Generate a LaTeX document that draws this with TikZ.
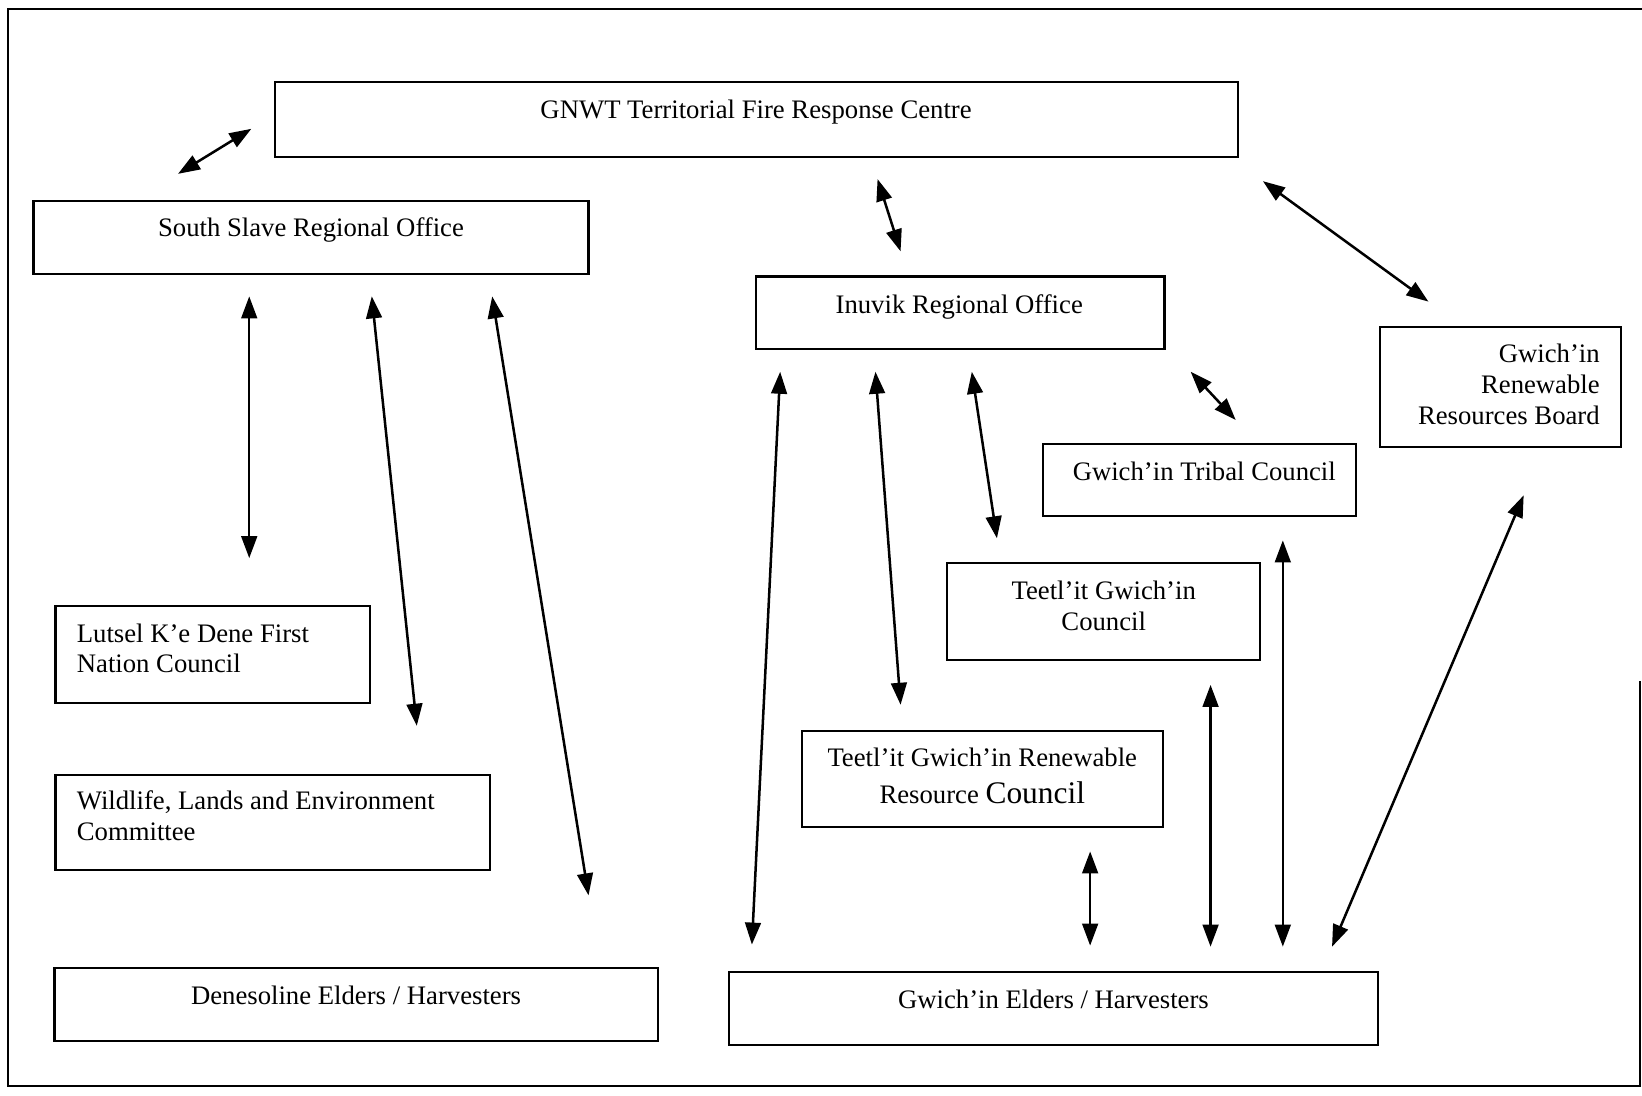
\documentclass[tikz,border=0pt]{standalone}
\usepackage{fontspec}
\setmainfont{Liberation Serif}
\usetikzlibrary{arrows.meta}
\tikzset{
  box/.style={draw, line width=1pt, inner sep=0pt},
  txt/.style={inner sep=0pt, font=\fontsize{12.75}{14.7}\selectfont},
  biarrow/.style={line width=1.2pt, {Triangle[length=10.5pt,width=7.5pt]}-{Triangle[length=10.5pt,width=7.5pt]}},
  frameline/.style={line width=1pt}
}
\begin{document}
\begin{tikzpicture}[x=0.5pt,y=-0.5pt]
\useasboundingbox (0,0) rectangle (1568,1046);
% outer frame
\coordinate (f1) at (8,9);
\coordinate (f2) at (1568,9);
\coordinate (f3) at (8,1037);
\coordinate (f4) at (1566,1037);
\coordinate (f5) at (1566,650);
\draw[frameline] (f2) -- (f1) -- (f3) -- (f4) -- (f5);

% boxes
\node[box, minimum width=459.5pt, minimum height=36pt] (gnwt) at (722.5,114) {};
\node[txt, anchor=base] (gnwtT) at (722,113) {GNWT Territorial Fire Response Centre};

\node[box, minimum width=265pt, minimum height=35pt] (south) at (297,227) {};
\node[txt, anchor=base] (southT) at (297,226) {South Slave Regional Office};

\node[box, minimum width=195pt, minimum height=34.5pt] (inuvik) at (917,298.5) {};
\node[txt, anchor=base] (inuvikT) at (916,299) {Inuvik Regional Office};

\node[box, minimum width=115pt, minimum height=57.5pt] (grrb) at (1433,369.5) {};
\node[txt, anchor=north east, align=right] (grrbT) at (1528,328) {Gwich'in\\Renewable\\Resources Board};

\node[box, minimum width=149.5pt, minimum height=34.5pt] (gtc) at (1145.5,458.5) {};
\node[txt, anchor=base] (gtcT) at (1150,459) {Gwich'in Tribal Council};

\node[box, minimum width=149.5pt, minimum height=46pt] (tgc) at (1053.5,584) {};
\node[txt, anchor=north, align=center] (tgcT) at (1054,554) {Teetl'it Gwich'in\\[0.5pt]Council};

\node[box, minimum width=172.5pt, minimum height=46pt] (tgrrc) at (938.5,744) {};
\node[txt, anchor=north, align=center] (tgrrcT) at (938,714) {Teetl'it Gwich'in Renewable\\[3pt]Resource {\fontsize{15}{15}\selectfont Council}};

\node[box, minimum width=150pt, minimum height=46pt] (lutsel) at (203,625) {};
\node[txt, anchor=north west, align=left] (lutselT) at (73,595) {Lutsel K'e Dene First\\Nation Council};

\node[box, minimum width=207.5pt, minimum height=45.5pt] (wlec) at (260.5,785.5) {};
\node[txt, anchor=north west, align=left] (wlecT) at (73,755) {Wildlife, Lands and Environment\\Committee};

\node[box, minimum width=288pt, minimum height=35pt] (denes) at (340,959) {};
\node[txt, anchor=base] (denesT) at (340,959) {Denesoline Elders / Harvesters};

\node[box, minimum width=310pt, minimum height=35pt] (gelders) at (1006,963) {};
\node[txt, anchor=base] (geldersT) at (1006,963) {Gwich'in Elders / Harvesters};

% arrow end points
\coordinate (a1) at (170,166);  \coordinate (a2) at (240,123);
\coordinate (b1) at (238,283);  \coordinate (b2) at (238,533);
\coordinate (c1) at (355,283);  \coordinate (c2) at (398,693);
\coordinate (d1) at (470,283);  \coordinate (d2) at (562,855);
\coordinate (e1) at (838,171);  \coordinate (e2) at (860,240);
\coordinate (g1) at (1206,173); \coordinate (g2) at (1364,288);
\coordinate (h1) at (1137,355); \coordinate (h2) at (1180,401);
\coordinate (i1) at (745,355);  \coordinate (i2) at (718,902);
\coordinate (j1) at (836,355);  \coordinate (j2) at (860,673);
\coordinate (k1) at (928,355);  \coordinate (k2) at (952,514);
\coordinate (l1) at (1041,813); \coordinate (l2) at (1041,903);
\coordinate (m1) at (1156,654); \coordinate (m2) at (1156,904);
\coordinate (n1) at (1225,516); \coordinate (n2) at (1225,904);
\coordinate (o1) at (1455,473); \coordinate (o2) at (1272,904);

\foreach \p in {a,b,c,d,e,g,h,i,j,k,l,m,n,o}
  \draw[biarrow] (\p1) -- (\p2);
\end{tikzpicture}
\end{document}
